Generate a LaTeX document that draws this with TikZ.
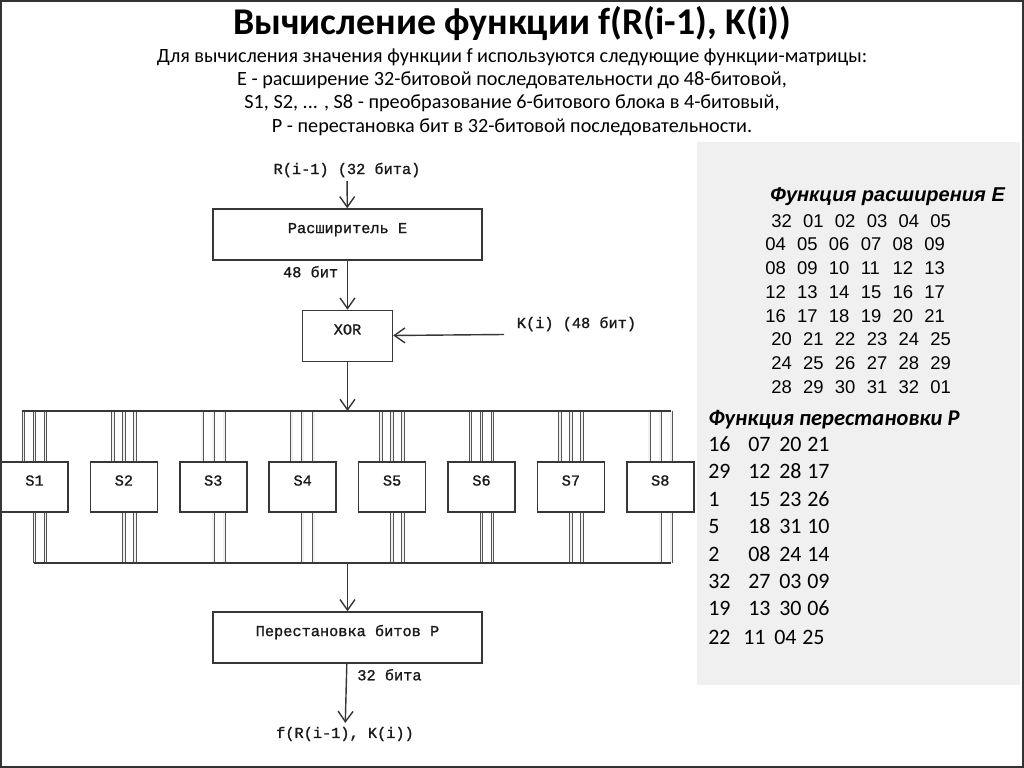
\documentclass[tikz,border=0pt]{standalone}
\usepackage{fontspec}
\setmainfont{Carlito}
\newfontfamily\codefont[FakeBold=1.2]{Liberation Mono}
\newfontfamily\arialfont{Liberation Sans}
\definecolor{LineColor}{RGB}{55,55,55}
\definecolor{PanelColor}{RGB}{240,240,240}
\usetikzlibrary{positioning, arrows.meta}

\begin{document}
\begin{tikzpicture}[node distance=0.98cm,
    block/.style={draw=LineColor, line width=0.8pt, minimum height=1.02cm, text height=6pt, text depth=7.6pt, text=black!90, font=\codefont\fontsize{8.7}{10}\selectfont},
    lbl/.style={inner sep=2pt, font=\codefont\fontsize{8.7}{10}\selectfont, text=black!90},
    arr/.style={draw=LineColor, line width=0.8pt, -{Straight Barb[length=6pt,width=8.5pt]}},
    bus/.style={draw=LineColor, line width=0.8pt},
    wire/.style={draw=LineColor!85, line width=0.5pt, double=black!6, double distance=1pt},
    cell/.style={anchor=base west, inner sep=0pt}]
  \useasboundingbox (0,0) rectangle (20.48,-15.36);
  \draw[line width=1.2pt, black!80] (0.02,-0.02) rectangle (20.46,-15.34);
  \fill[PanelColor] (13.94,-2.84) rectangle (20.40,-13.70);

  % heading
  \node[font=\bfseries\fontsize{21.5}{26}\selectfont] (title) at (10.24,-0.48) {Вычисление функции f(R(i-1), K(i))};
  \node[align=center, font=\fontsize{11.5}{13.2}\selectfont] (intro) at (10.24,-1.84)
    {Для вычисления значения функции f используются следующие функции-матрицы:\\
     E - расширение 32-битовой последовательности до 48-битовой,\\
     S1, S2, ... , S8 - преобразование 6-битового блока в 4-битовый,\\
     P - перестановка бит в 32-битовой последовательности.};

  % main column
  \node[lbl] (rin) at (6.94,-3.40) {R(i-1) (32 бита)};
  \node[block, minimum width=5.38cm] (E) at (6.95,-4.69) {Расширитель E};
  \node[block, minimum width=1.8cm, below=of E] (XOR) {XOR};
  \node[lbl, anchor=west] (kin) at (10.26,-6.48) {K(i) (48 бит)};
  \coordinate (kstart) at (10.08,-6.69);
  \node[lbl, below left=0.03cm and 0.11cm of E.south] (e48) {48 бит};

  % s-boxes and buses
  \coordinate (busL) at (0.44,-8.22);
  \coordinate (busR) at (13.42,-8.22);
  \coordinate (busBL) at (0.68,-11.26);
  \coordinate (busBR) at (13.42,-11.26);
  \foreach \i in {1,...,8} {
    \node[block, minimum width=1.34cm, minimum height=1.0cm] (S\i) at ({0.69+1.788*(\i-1)},-9.74) {S\i};
    \foreach \dx in {-0.22,0,0.22}
      \draw[wire] ([xshift=\dx cm]S\i.north) -- ([xshift=\dx cm]S\i.north |- busL);
    \foreach \dx in {0,0.22}
      \draw[wire] ([xshift=\dx cm]S\i.south) -- ([xshift=\dx cm]S\i.south |- busBL);
  }
  \draw[bus] (busL) -- (busR);
  \draw[bus] (busBL) -- (busBR);

  \node[block, minimum width=5.38cm] (P) at (6.95,-12.75) {Перестановка битов P};
  \node[lbl, below right=0.03cm and 0.12cm of P.south] (p32) {32 бита};
  \node[lbl] (out) at (6.90,-14.68) {f(R(i-1), K(i))};

  \draw[arr] (rin) -- (E);
  \draw[arr] (E) -- (XOR);
  \draw[arr] (kstart) -- (XOR);
  \draw[arr] (XOR) -- (XOR |- busL);
  \draw[arr] (P |- busBL) -- (P);
  \draw[arr] (P) -- (out);

  % expansion table
  \node[cell, font=\arialfont\bfseries\itshape\fontsize{11.4}{13}\selectfont] (etitle) at (15.40,-4.04) {Функция расширения E};
  \foreach \row/\xo [count=\r from 0] in {{32,01,02,03,04,05}/15.42, {04,05,06,07,08,09}/15.30,
      {08,09,10,11,12,13}/15.30, {12,13,14,15,16,17}/15.30, {16,17,18,19,20,21}/15.30,
      {20,21,22,23,24,25}/15.42, {24,25,26,27,28,29}/15.42, {28,29,30,31,32,01}/15.42}
    \foreach \v [count=\c from 0] in \row
      \node[cell, font=\arialfont\fontsize{10.5}{12}\selectfont] (e\r-\c) at ({\xo+0.636*\c},{-4.544-0.474*\r}) {\v};

  % permutation table
  \node[cell, font=\bfseries\itshape\fontsize{12.8}{15}\selectfont] (ptitle) at (14.16,-8.50) {Функция перестановки P};
  \def\pcols{{14.16,14.96,15.58,16.14}}
  \foreach \row/\yy/\dx [count=\r] in {{16,07,20,21}/9.03/0, {29,12,28,17}/9.57/0,
      {1,15,23,26}/10.12/0, {5,18,31,10}/10.67/0, {2,08,24,14}/11.22/0,
      {32,27,03,09}/11.77/0, {19,13,30,06}/12.31/0, {22,11,04,25}/12.88/-0.1}
    \foreach \v [count=\c] in \row {
      \pgfmathsetmacro\xx{\pcols[\c-1]+(\c>1)*\dx}
      \node[cell, font=\fontsize{12.5}{14}\selectfont] (p\r-\c) at (\xx,-\yy) {\v};
    }
\end{tikzpicture}
\end{document}
